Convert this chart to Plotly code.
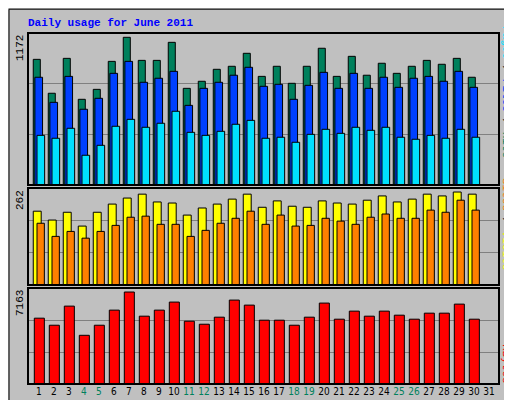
import plotly.graph_objects as go

days = list(range(1, 32))
hits  = [997,728,1005,680,759,981,1172,989,989,1132,767,823,918,942,1045,862,942,807,942,1085,862,1021,871,966,886,942,989,958,1005,855,None]
files = [855,656,862,601,688,886,981,815,847,902,632,767,815,871,934,783,799,680,791,894,767,886,767,855,775,847,862,823,902,775,None]
pages = [394,371,450,236,315,466,521,458,490,585,418,394,426,482,513,371,379,339,402,442,410,458,434,458,379,363,394,371,442,379,None]
visits= [208,183,205,166,205,228,245,256,234,231,197,217,228,242,256,219,237,222,219,237,231,228,239,251,234,242,256,251,262,256,None]
sites = [174,137,151,132,151,168,191,194,171,171,137,154,174,188,208,171,197,166,168,188,180,171,191,200,188,188,211,205,239,211,None]
kbytes= [5126,4577,6066,3793,4577,5752,7163,5282,5752,6379,4890,4655,5204,6536,6144,4969,4969,4577,5204,6301,5047,5674,5282,5674,5360,5047,5517,5517,6222,5047,None]
weekend = [4,5,11,12,18,19,25,26]
tick_labels = [f'<span style="color:#00805C">{d}</span>' if d in weekend else str(d) for d in days]
max_hits, max_sites, max_kb = 1172, 262, 7163

fig = go.Figure()
def bars(y, color, off, w, ax):
    fig.add_trace(go.Bar(x=days, y=y, marker=dict(color=color, line=dict(color="black", width=1)),
                         offset=off, width=w, xaxis="x"+ax if ax != "1" else "x",
                         yaxis="y"+ax if ax != "1" else "y", showlegend=False, hoverinfo="skip"))
bars(hits, "#00805C", -0.38, 0.47, "1")
bars(files, "#0040FF", -0.27, 0.51, "1")
bars(pages, "#00E0FF", -0.13, 0.51, "1")
bars(visits, "#FFFF00", -0.38, 0.53, "2")
bars(sites, "#FF8000", -0.13, 0.49, "2")
bars(kbytes, "#FF0000", -0.31, 0.67, "3")

xr = [0.27, 31.67]
dx = [20/512, 491/512]
common_x = dict(range=xr, domain=dx, showgrid=False, zeroline=False, fixedrange=True)
fig.update_layout(
    width=512, height=400, margin=dict(l=0, r=0, t=0, b=0),
    paper_bgcolor="#C0C0C0", plot_bgcolor="#C0C0C0", barmode="overlay",
    font=dict(family="Liberation Mono", size=11, color="black"),
    xaxis=dict(**common_x, showticklabels=False),
    xaxis2=dict(**common_x, showticklabels=False, anchor="y2"),
    xaxis3=dict(**common_x, anchor="y3", tickvals=days, ticktext=tick_labels, ticks="",
                tickangle=0, tickfont=dict(size=10, family="DejaVu Sans Condensed, DejaVu Sans")),
)
def yax(top, d0, d1, anchor):
    return dict(range=[0, top], domain=[d0, d1], tickvals=[top/3, 2*top/3], showticklabels=False,
                gridcolor="#808080", gridwidth=1, zeroline=False, anchor=anchor, fixedrange=True)
fig.update_layout(yaxis=yax(max_hits*152/147.7, 0.5575, 0.9375, "x"),
                  yaxis2=yax(max_sites*96.4/92.4, 0.3075, 0.55, "x2"),
                  yaxis3=yax(max_kb*95.4/91.4, 0.06, 0.30, "x3"))

shapes = [dict(type="rect", xref="paper", yref="paper", x0=0.002, y0=0.003, x1=0.998, y1=0.997,
               line=dict(color="black", width=1)),
          dict(type="rect", xref="paper", yref="paper", x0=0.985, y0=0.003, x1=0.998, y1=0.997,
               fillcolor="#808080", line=dict(width=0)),
          dict(type="rect", xref="paper", yref="paper", x0=0.002, y0=0.003, x1=0.998, y1=0.015,
               fillcolor="#808080", line=dict(width=0))]
for d0, d1 in [(0.5575, 0.9375), (0.3075, 0.55), (0.06, 0.30)]:
    shapes.append(dict(type="rect", xref="paper", yref="paper", x0=dx[0], x1=dx[1], y0=d0, y1=d1,
                       line=dict(color="black", width=2)))
fig.update_layout(shapes=shapes)

ann = [dict(text="<b>Daily usage for June 2011</b>", x=18/512, y=1-15/400, xanchor="left", yanchor="middle",
            font=dict(color="#0000FF", size=11), showarrow=False),
       dict(text="1172", x=12/512, y=0.9375, textangle=-90, xanchor="center", yanchor="top", showarrow=False),
       dict(text="262", x=12/512, y=0.55, textangle=-90, xanchor="center", yanchor="top", showarrow=False),
       dict(text="7163", x=12/512, y=0.30, textangle=-90, xanchor="center", yanchor="top", showarrow=False),
       dict(text='<span style="color:#00E0FF">Pages</span> / <span style="color:#0040FF">Files</span> / <span style="color:#00805C">Hits</span>',
            x=498/512, y=0.79, textangle=90, xanchor="center", yanchor="middle", showarrow=False),
       dict(text='<span style="color:#FF8000">Sites</span> / <span style="color:#FFFF00">Visits</span>',
            x=498/512, y=0.46, textangle=90, xanchor="center", yanchor="middle", showarrow=False),
       dict(text='<span style="color:#FF0000">KBytes</span>',
            x=498/512, y=0.11, textangle=90, xanchor="center", yanchor="middle", showarrow=False)]
for a in ann:
    a["xref"] = "paper"; a["yref"] = "paper"
fig.update_layout(annotations=ann)
fig.write_html("out.html")
